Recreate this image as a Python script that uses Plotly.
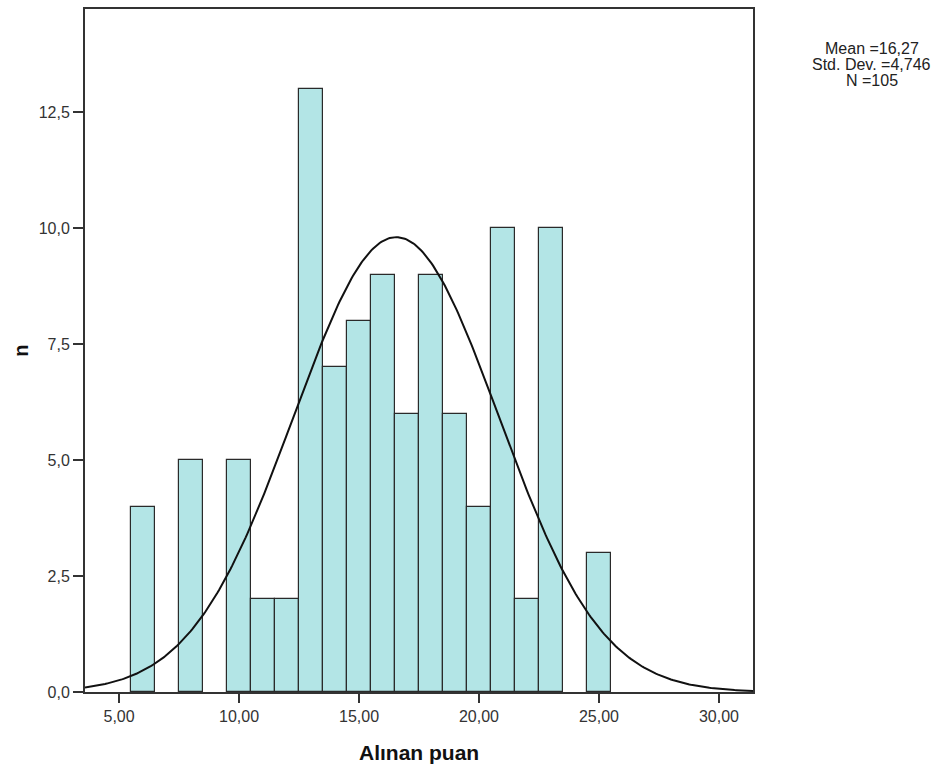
import numpy as np
import plotly.graph_objects as go

# ---- data ----
bin_centers = [6, 8, 10, 11, 12, 13, 14, 15, 16, 17, 18, 19, 20, 21, 22, 23, 25]
counts = [4, 5, 5, 2, 2, 13, 7, 8, 9, 6, 9, 6, 4, 10, 2, 10, 3]
bin_width = 1.0

# normal curve as drawn in the reference
curve_mean = 16.55
curve_sd = 4.27
curve_n = 105

x_tickvals = [5, 10, 15, 20, 25, 30]
x_ticktext = ["5,00", "10,00", "15,00", "20,00", "25,00", "30,00"]
y_tickvals = [0, 2.5, 5, 7.5, 10, 12.5]
y_ticktext = ["0,0", "2,5", "5,0", "7,5", "10,0", "12,5"]

stats_lines = ["Mean =16,27", "Std. Dev. =4,746", "N =105"]
x_title = "Alınan puan"
y_title = "n"

x_range = [3.58, 31.42]
y_range = [0, 14.73]

# ---- figure ----
fig = go.Figure()
fig.add_trace(go.Bar(
    x=bin_centers, y=counts, width=bin_width,
    marker=dict(color="#b3e5e6", line=dict(color="#2a2a2a", width=1.2)),
    showlegend=False, hoverinfo="x+y",
))

xc = np.linspace(x_range[0], x_range[1], 400)
yc = curve_n * bin_width / (curve_sd * np.sqrt(2 * np.pi)) * np.exp(-0.5 * ((xc - curve_mean) / curve_sd) ** 2)
fig.add_trace(go.Scatter(x=xc, y=yc, mode="lines",
                         line=dict(color="#111111", width=2), showlegend=False))

font_family = "Liberation Sans, Arial, sans-serif"
fig.update_layout(
    width=942, height=767,
    margin=dict(l=85, r=189, t=7, b=75),
    paper_bgcolor="white", plot_bgcolor="white",
    font=dict(family=font_family, color="#333333"),
    bargap=0,
)
fig.update_xaxes(
    range=x_range, tickvals=x_tickvals, ticktext=x_ticktext,
    showgrid=False, zeroline=False,
    showline=True, linecolor="#333333", linewidth=2, mirror=True,
    ticks="outside", ticklen=9, tickwidth=1.5, tickcolor="#333333",
    tickfont=dict(size=16, color="#333333"),
)
fig.update_yaxes(
    range=y_range, tickvals=y_tickvals, ticktext=y_ticktext,
    showgrid=False, zeroline=False,
    showline=True, linecolor="#333333", linewidth=2, mirror=True,
    ticks="outside", ticklen=10, tickwidth=1.5, tickcolor="#333333",
    tickfont=dict(size=16, color="#333333"),
)

# stats block, one annotation per line
plot_top, plot_h = 7, 685
for i, line in enumerate(stats_lines):
    ypix = 47 + 16 * i
    fig.add_annotation(text=line, xref="paper", yref="paper",
                       x=1.178, y=(plot_top + plot_h - ypix) / plot_h,
                       xanchor="center", yanchor="middle",
                       showarrow=False, align="center",
                       font=dict(size=16, color="#222222", family=font_family))
fig.add_annotation(text="<b>" + x_title + "</b>", xref="paper", yref="paper",
                   x=0.5, y=-0.088, xanchor="center", yanchor="middle",
                   showarrow=False, font=dict(size=21, color="#111111", family=font_family))
fig.add_annotation(text="<b>" + y_title + "</b>", xref="paper", yref="paper",
                   x=-0.097, y=0.5, xanchor="center", yanchor="middle", textangle=-90,
                   showarrow=False, font=dict(size=20, color="#111111", family=font_family))

fig.write_html("out.html")
